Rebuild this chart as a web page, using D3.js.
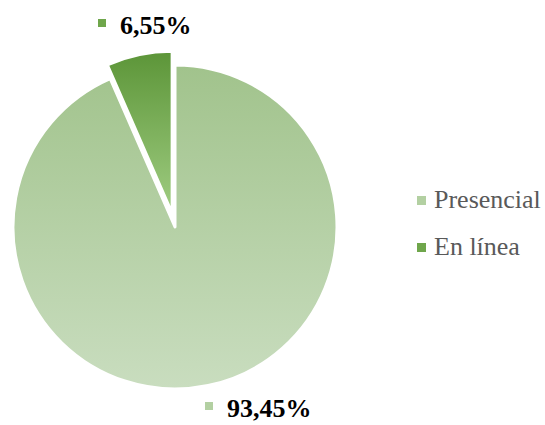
<!DOCTYPE html>
<html>
<head>
<meta charset="utf-8">
<script src="https://cdn.jsdelivr.net/npm/d3@7"></script>
<style>
  html, body { margin: 0; padding: 0; background: #fff; }
  svg { display: block; }
</style>
</head>
<body>
<div id="viz"></div>
<script>
const categories = ["Presencial", "En línea"];
const values = [93.45, 6.55];
const valueLabels = ["93,45%", "6,55%"];

const colors = [
  { top: "#a1c38c", bottom: "#c9ddbf", marker: "#b3d0a2" },
  { top: "#5c9538", bottom: "#a0cd82", marker: "#6fa64b" },
];

const width = 545, height = 425;
const cx = 175, cy = 227, radius = 162;
const explode = [0, 14];

const svg = d3.select("#viz")
  .append("svg")
  .attr("width", width)
  .attr("height", height);

const defs = svg.append("defs");
colors.forEach((c, i) => {
  const g = defs.append("linearGradient")
    .attr("id", "grad" + i)
    .attr("x1", 0).attr("y1", 0).attr("x2", 0).attr("y2", 1);
  g.append("stop").attr("offset", "0%").attr("stop-color", c.top);
  g.append("stop").attr("offset", "100%").attr("stop-color", c.bottom);
});

const pie = d3.pie().sort(null).value(d => d)(values);
const arc = d3.arc().innerRadius(0).outerRadius(radius);

const chart = svg.append("g").attr("transform", `translate(${cx},${cy})`);

chart.selectAll("path")
  .data(pie)
  .join("path")
  .attr("d", arc)
  .attr("transform", (d, i) => {
    const a = (d.startAngle + d.endAngle) / 2;
    return `translate(${Math.sin(a) * explode[i]},${-Math.cos(a) * explode[i]})`;
  })
  .attr("fill", (d, i) => `url(#grad${i})`)
  .attr("stroke", "#fff")
  .attr("stroke-width", 3)
  .attr("stroke-linejoin", "round");

// data labels
const labelPos = [
  { dx: 84, dy: 190 },
  { dx: -19, dy: -193 }
];
const labels = chart.selectAll("g.lbl")
  .data(pie)
  .join("g")
  .attr("class", "lbl")
  .attr("transform", (d, i) => `translate(${labelPos[i].dx},${labelPos[i].dy})`);

const textX = [-32, -36];

labels.append("rect")
  .attr("x", (d, i) => textX[i] - 22).attr("y", -15)
  .attr("width", 8).attr("height", 8)
  .attr("fill", (d, i) => colors[i].marker);

labels.append("text")
  .attr("x", (d, i) => textX[i])
  .attr("y", 0)
  .attr("font-family", "'Liberation Serif', 'Times New Roman', serif")
  .attr("font-weight", "bold")
  .attr("font-size", 26)
  .attr("fill", "#000")
  .text((d, i) => valueLabels[i]);

// legend
const legend = svg.append("g").attr("transform", "translate(417,208)");
const items = legend.selectAll("g")
  .data(categories)
  .join("g")
  .attr("transform", (d, i) => `translate(0,${i * 47})`);

items.append("rect")
  .attr("x", 0).attr("y", -12)
  .attr("width", 9).attr("height", 9)
  .attr("fill", (d, i) => colors[i].marker);

items.append("text")
  .attr("x", 17)
  .attr("y", 0)
  .attr("font-family", "'Liberation Serif', 'Times New Roman', serif")
  .attr("font-size", 26)
  .attr("fill", "#595959")
  .text(d => d);
</script>
</body>
</html>
